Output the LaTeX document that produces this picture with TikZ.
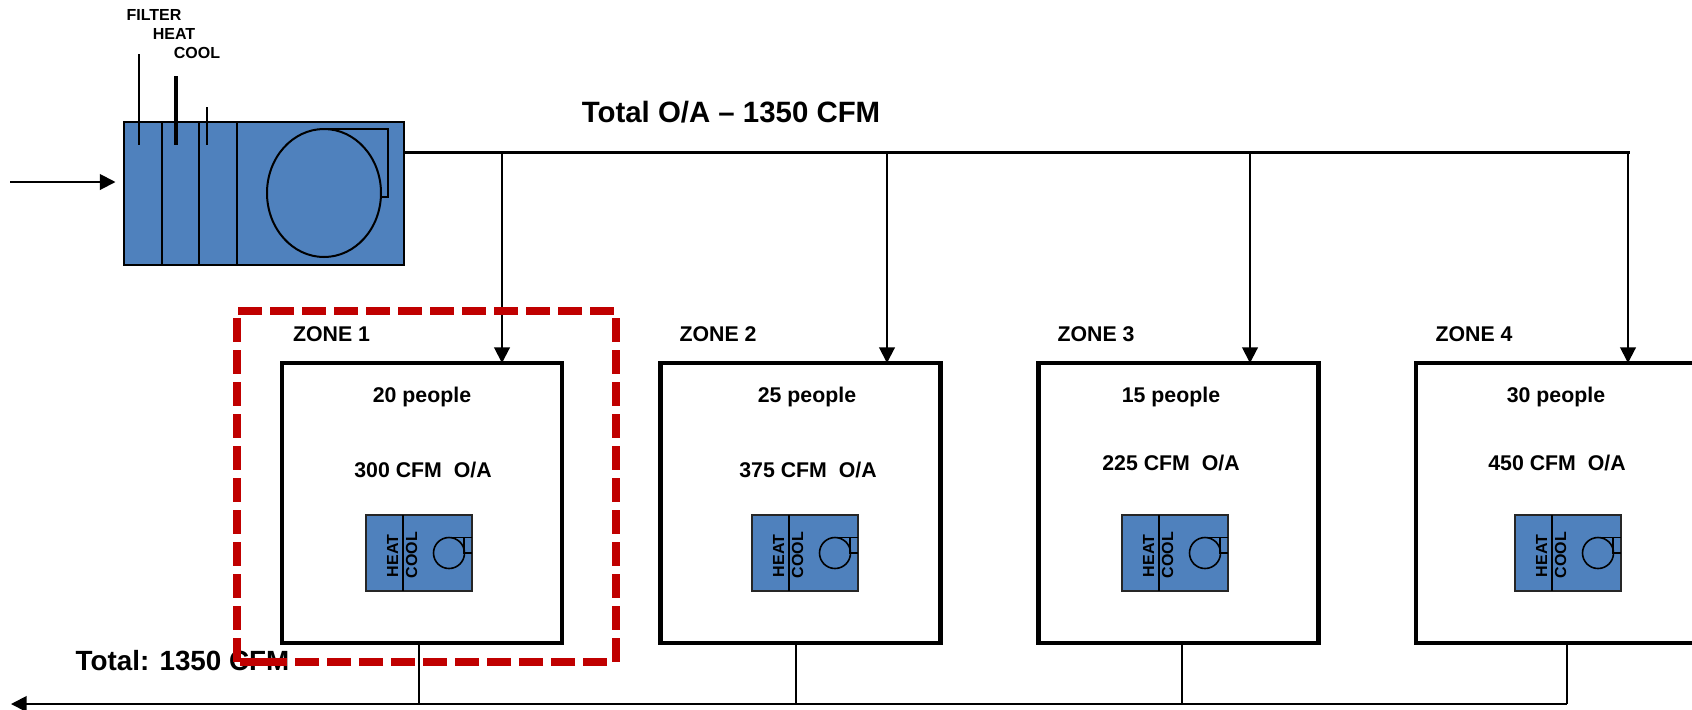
\documentclass[tikz,border=0pt]{standalone}
\usepackage{fontspec}
\setmainfont{Liberation Sans}
\usetikzlibrary{arrows.meta,shapes.geometric}
\definecolor{unitblue}{HTML}{4F81BD}
\definecolor{zonered}{HTML}{C00000}
\tikzset{
  x=0.5pt,y=-0.5pt,
  lbl/.style={inner sep=0,anchor=base,font=\bfseries\fontsize{10.65}{12}\selectfont},
  tiny/.style={inner sep=0,anchor=base,font=\bfseries\fontsize{8}{10}\selectfont},
  zonebox/.style={draw=black,line width=2.3pt,outer sep=0,fill=white,minimum width=140pt,minimum height=140pt,inner sep=0},
  ahubox/.style={draw=black,line width=1pt,fill=unitblue,minimum width=140pt,minimum height=71.5pt,inner sep=0},
  unitbox/.style={draw=black!85,line width=0.8pt,fill=unitblue,minimum width=53pt,minimum height=38pt,inner sep=0},
  fanbig/.style={ellipse,draw=black,line width=1pt,outer sep=0,minimum width=57pt,minimum height=64pt,inner sep=0},
  fansmall/.style={circle,draw=black,line width=0.8pt,outer sep=0,minimum size=15.5pt,inner sep=0},
  wire/.style={draw=black,line width=1pt},
  flow/.style={wire,-{Triangle[length=7.8pt,width=7.8pt]}},
  reddash/.style={draw=zonered,line width=3.6pt,dash pattern=on 12pt off 4pt},
  vtext/.style={inner sep=0,rotate=90,font=\bfseries\fontsize{8}{9}\selectfont}
}
\newcommand{\zoneunit}[3]{%
  \begin{scope}[shift={(#2,#3)}]
    \node[unitbox] (#1) at (53,38) {};
    \draw[wire] (37,0) -- (37,76);
    \node[fansmall] (#1fan) at (83,38) {};
    \draw[line width=0.8pt] (#1fan.north) -- (106,22.5) (98,22.5) -- (98,38) -- (106,38);
    \node[vtext] (#1h) at (26.5,41) {HEAT};
    \node[vtext] (#1c) at (45.5,40) {COOL};
  \end{scope}}
\begin{document}
\begin{tikzpicture}
\useasboundingbox (0,0) rectangle (1692,709);
\clip (0,0) rectangle (1692,709);

% air handler
\node[ahubox] (ahu) at (263.5,193.5) {};
\draw[wire] (162,122) -- (162,265) (199,122) -- (199,265) (237,122) -- (237,265);
\node[fanbig] (fan) at (324,193) {};
\draw[wire] (fan.north) -- (388,129) -- (388,197) -- (381,197);
\draw[line width=1pt] (139,54) -- (139,145);
\draw[line width=1.6pt] (176,76) -- (176,145);
\draw[line width=0.85pt] (207,107) -- (207,145);
\node[tiny] (tf) at (154,20) {FILTER};
\node[tiny] (th) at (174,39) {HEAT};
\node[tiny] (tc) at (197,58) {COOL};
\coordinate (inlet) at (10,182);
\draw[flow] (inlet) -- (115.5,182);

% zones
\node[zonebox] (z1) at (422,503) {};
\node[zonebox] (z2) at (800.5,503) {};
\node[zonebox] (z3) at (1178.5,503) {};
\node[zonebox] (z4) at (1556,503) {};

\node[lbl] (l1) at (331.5,341) {ZONE 1};
\node[lbl] (l2) at (718,341) {ZONE 2};
\node[lbl] (l3) at (1096,341) {ZONE 3};
\node[lbl] (l4) at (1474,341) {ZONE 4};

\node[lbl] (p1) at (422,402) {20 people};
\node[lbl] (p2) at (807,402) {25 people};
\node[lbl] (p3) at (1171,402) {15 people};
\node[lbl] (p4) at (1556,402) {30 people};

\node[lbl] (c1) at (423,477) {300 CFM\ \ O/A};
\node[lbl] (c2) at (808,477) {375 CFM\ \ O/A};
\node[lbl] (c3) at (1171,470) {225 CFM\ \ O/A};
\node[lbl] (c4) at (1557,470) {450 CFM\ \ O/A};

\zoneunit{u1}{366}{515}
\zoneunit{u2}{752}{515}
\zoneunit{u3}{1122}{515}
\zoneunit{u4}{1515}{515}

% supply
\coordinate (s1) at (502,152);
\coordinate (s2) at (887,152);
\coordinate (s3) at (1250,152);
\coordinate (s4) at (1628,152);
\draw[draw=black,line width=1.5pt,line cap=rect] (ahu.east |- s1) -- (s4);
\draw[flow] (s1) -- (s1 |- z1.north);
\draw[flow] (s2) -- (s2 |- z2.north);
\draw[flow] (s3) -- (s3 |- z3.north);
\draw[flow] (s4) -- (s4 |- z4.north);
\node[inner sep=0,anchor=base,font=\bfseries\fontsize{14.7}{17}\selectfont] (totoa) at (731,122) {Total O/A – 1350 CFM};

% return
\coordinate (r1) at (419,704);
\coordinate (r2) at (796,704);
\coordinate (r3) at (1182,704);
\coordinate (r4) at (1567,704);
\coordinate (outlet) at (11,704);
\draw[flow] (r4) -- (outlet);
\draw[wire] (r1 |- z1.south) -- (r1);
\draw[wire] (r2 |- z2.south) -- (r2);
\draw[wire] (r3 |- z3.south) -- (r3);
\draw[draw=black,line width=1.4pt] (r4 |- z4.south) -- (r4);
\node[inner sep=0,anchor=base,font=\bfseries\fontsize{13.9}{16}\selectfont] (tot) at (182.5,670) {Total: 1350 CFM};

% dashed zone outline
\draw[reddash] (238,311) -- (616,311)
  (616,318) -- (616,667)
  (607,662) -- (240,662)
  (237,318) -- (237,662);
\draw[draw=zonered,line width=3.6pt] (240,662) -- (287,662);
\end{tikzpicture}
\end{document}
